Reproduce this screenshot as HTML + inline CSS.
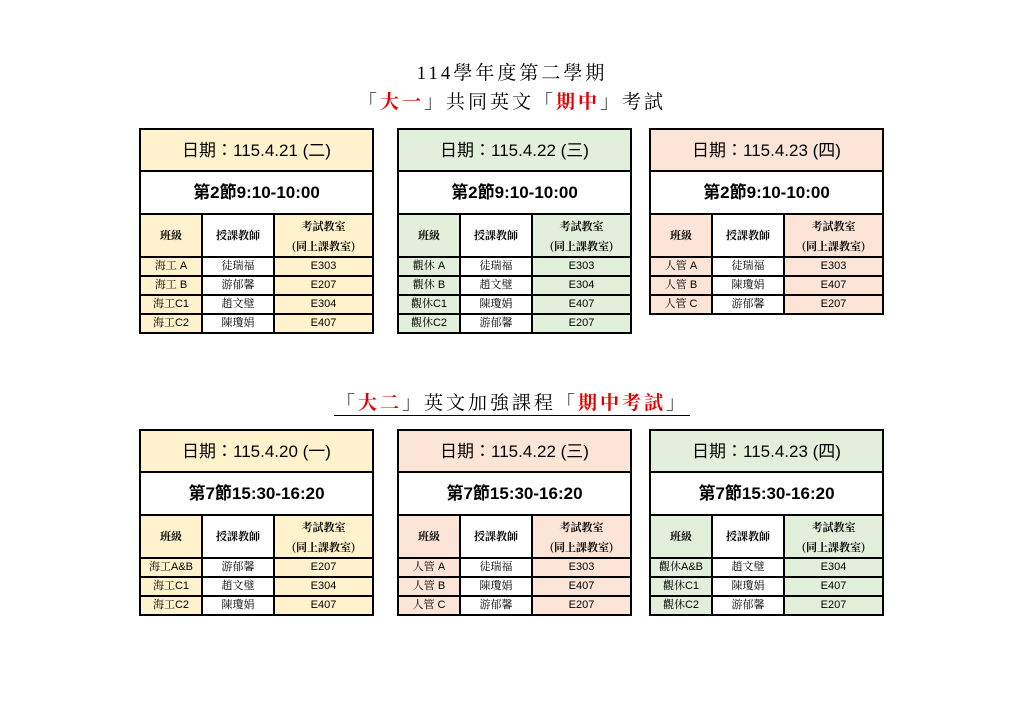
<!DOCTYPE html>
<html><head><meta charset="utf-8"><style>
body{margin:0;width:1024px;height:723px;background:#fff;position:relative;overflow:hidden;font-family:"Liberation Sans","Noto Sans CJK TC",sans-serif;}
.t{position:absolute;border-collapse:collapse;table-layout:fixed;}
.t td{border:2px solid #000;text-align:center;padding:0;color:#000;line-height:1;}
.y td{background:#fff2cc}.g td{background:#e2efda}.p td{background:#fce4d6}
.t td.w{background:#fff}
.d{font-size:17px;height:40px}
.s{font-size:17px;font-weight:bold;height:41px}
.h{font-size:11px;font-weight:bold;font-family:"Noto Serif CJK SC",serif;height:41px}
.h2{line-height:20px!important}
.r td{font-size:11px;height:17px;font-family:"Liberation Sans","Noto Serif CJK SC",serif}
.ti{position:absolute;left:0;width:1024px;text-align:center;font-family:"Liberation Serif","Noto Serif CJK SC",serif;font-size:19px;letter-spacing:3px}
.red{color:#e00000;font-weight:bold}
</style></head><body>
<div class="ti" style="top:58px">114學年度第二學期</div>
<div class="ti" style="top:87px">「<span class="red">大一</span>」共同英文「<span class="red">期中</span>」考試</div>
<div class="ti" style="top:388px;"><span style="border-bottom:1.5px solid #000;padding:0 2px 1px">「<span class="red">大二</span>」英文加強課程「<span class="red">期中考試</span>」</span></div>

<table class="t y" style="left:139px;top:128px;width:235px"><colgroup><col style="width:62px"><col style="width:72px"><col></colgroup>
<tr><td colspan="3" class="d">日期：115.4.21 (二)</td></tr>
<tr><td colspan="3" class="s w">第2節9:10-10:00</td></tr>
<tr><td class="h">班級</td><td class="h w">授課教師</td><td class="h h2">考試教室<br>(同上課教室)</td></tr>
<tr class="r"><td>海工 A</td><td class="w">徒瑞福</td><td>E303</td></tr>
<tr class="r"><td>海工 B</td><td class="w">游郁馨</td><td>E207</td></tr>
<tr class="r"><td>海工C1</td><td class="w">趙文璧</td><td>E304</td></tr>
<tr class="r"><td>海工C2</td><td class="w">陳瓊娟</td><td>E407</td></tr>
</table>

<table class="t g" style="left:397px;top:128px;width:235px"><colgroup><col style="width:62px"><col style="width:72px"><col></colgroup>
<tr><td colspan="3" class="d">日期：115.4.22 (三)</td></tr>
<tr><td colspan="3" class="s w">第2節9:10-10:00</td></tr>
<tr><td class="h">班級</td><td class="h w">授課教師</td><td class="h h2">考試教室<br>(同上課教室)</td></tr>
<tr class="r"><td>觀休 A</td><td class="w">徒瑞福</td><td>E303</td></tr>
<tr class="r"><td>觀休 B</td><td class="w">趙文璧</td><td>E304</td></tr>
<tr class="r"><td>觀休C1</td><td class="w">陳瓊娟</td><td>E407</td></tr>
<tr class="r"><td>觀休C2</td><td class="w">游郁馨</td><td>E207</td></tr>
</table>

<table class="t p" style="left:649px;top:128px;width:235px"><colgroup><col style="width:62px"><col style="width:72px"><col></colgroup>
<tr><td colspan="3" class="d">日期：115.4.23 (四)</td></tr>
<tr><td colspan="3" class="s w">第2節9:10-10:00</td></tr>
<tr><td class="h">班級</td><td class="h w">授課教師</td><td class="h h2">考試教室<br>(同上課教室)</td></tr>
<tr class="r"><td>人管 A</td><td class="w">徒瑞福</td><td>E303</td></tr>
<tr class="r"><td>人管 B</td><td class="w">陳瓊娟</td><td>E407</td></tr>
<tr class="r"><td>人管 C</td><td class="w">游郁馨</td><td>E207</td></tr>
</table>

<table class="t y" style="left:139px;top:429px;width:235px"><colgroup><col style="width:62px"><col style="width:72px"><col></colgroup>
<tr><td colspan="3" class="d">日期：115.4.20 (一)</td></tr>
<tr><td colspan="3" class="s w">第7節15:30-16:20</td></tr>
<tr><td class="h">班級</td><td class="h w">授課教師</td><td class="h h2">考試教室<br>(同上課教室)</td></tr>
<tr class="r"><td>海工A&amp;B</td><td class="w">游郁馨</td><td>E207</td></tr>
<tr class="r"><td>海工C1</td><td class="w">趙文璧</td><td>E304</td></tr>
<tr class="r"><td>海工C2</td><td class="w">陳瓊娟</td><td>E407</td></tr>
</table>

<table class="t p" style="left:397px;top:429px;width:235px"><colgroup><col style="width:62px"><col style="width:72px"><col></colgroup>
<tr><td colspan="3" class="d">日期：115.4.22 (三)</td></tr>
<tr><td colspan="3" class="s w">第7節15:30-16:20</td></tr>
<tr><td class="h">班級</td><td class="h w">授課教師</td><td class="h h2">考試教室<br>(同上課教室)</td></tr>
<tr class="r"><td>人管 A</td><td class="w">徒瑞福</td><td>E303</td></tr>
<tr class="r"><td>人管 B</td><td class="w">陳瓊娟</td><td>E407</td></tr>
<tr class="r"><td>人管 C</td><td class="w">游郁馨</td><td>E207</td></tr>
</table>

<table class="t g" style="left:649px;top:429px;width:235px"><colgroup><col style="width:62px"><col style="width:72px"><col></colgroup>
<tr><td colspan="3" class="d">日期：115.4.23 (四)</td></tr>
<tr><td colspan="3" class="s w">第7節15:30-16:20</td></tr>
<tr><td class="h">班級</td><td class="h w">授課教師</td><td class="h h2">考試教室<br>(同上課教室)</td></tr>
<tr class="r"><td>觀休A&amp;B</td><td class="w">趙文璧</td><td>E304</td></tr>
<tr class="r"><td>觀休C1</td><td class="w">陳瓊娟</td><td>E407</td></tr>
<tr class="r"><td>觀休C2</td><td class="w">游郁馨</td><td>E207</td></tr>
</table>
</body></html>
